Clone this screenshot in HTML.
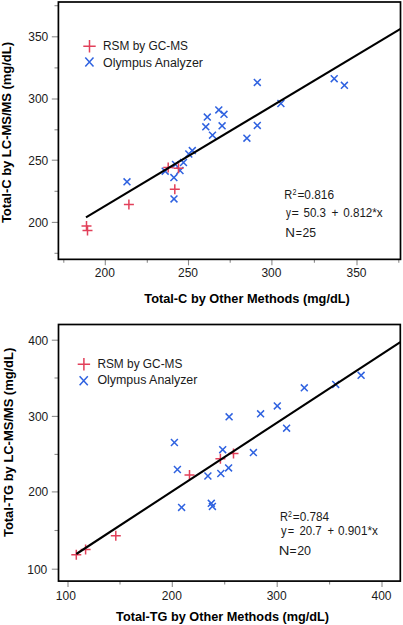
<!DOCTYPE html>
<html><head><meta charset="utf-8"><style>
html,body{margin:0;padding:0;background:#fff;}
svg{display:block;}
.t{font-family:"Liberation Sans",sans-serif;font-size:12px;fill:#1a1a1a;}
.b{font-family:"Liberation Sans",sans-serif;font-size:12.4px;font-weight:bold;fill:#000;}
</style></head><body>
<svg width="403" height="625" viewBox="0 0 403 625">
<rect width="403" height="625" fill="#fff"/>
<path d="M51.8 36.8H58.4" stroke="#8c8c8c" stroke-width="1.1"/>
<text x="48.3" y="41.10" text-anchor="end" class="t">350</text>
<path d="M51.8 99.0H58.4" stroke="#8c8c8c" stroke-width="1.1"/>
<text x="48.3" y="103.30" text-anchor="end" class="t">300</text>
<path d="M51.8 160.2H58.4" stroke="#8c8c8c" stroke-width="1.1"/>
<text x="48.3" y="164.50" text-anchor="end" class="t">250</text>
<path d="M51.8 222.4H58.4" stroke="#8c8c8c" stroke-width="1.1"/>
<text x="48.3" y="226.70" text-anchor="end" class="t">200</text>
<path d="M54.5 5.7H58.4" stroke="#8c8c8c" stroke-width="1.1"/>
<path d="M54.5 67.9H58.4" stroke="#8c8c8c" stroke-width="1.1"/>
<path d="M54.5 129.8H58.4" stroke="#8c8c8c" stroke-width="1.1"/>
<path d="M54.5 191.3H58.4" stroke="#8c8c8c" stroke-width="1.1"/>
<path d="M54.5 253.3H58.4" stroke="#8c8c8c" stroke-width="1.1"/>
<path d="M105.3 259.35V265.35" stroke="#8c8c8c" stroke-width="1.1"/>
<text x="104.80" y="277.2" text-anchor="middle" class="t">200</text>
<path d="M188.5 259.35V265.35" stroke="#8c8c8c" stroke-width="1.1"/>
<text x="188.00" y="277.2" text-anchor="middle" class="t">250</text>
<path d="M271.9 259.35V265.35" stroke="#8c8c8c" stroke-width="1.1"/>
<text x="271.40" y="277.2" text-anchor="middle" class="t">300</text>
<path d="M357.0 259.35V265.35" stroke="#8c8c8c" stroke-width="1.1"/>
<text x="356.50" y="277.2" text-anchor="middle" class="t">350</text>
<path d="M63.8 259.35V262.65000000000003" stroke="#8c8c8c" stroke-width="1.1"/>
<path d="M147.3 259.35V262.65000000000003" stroke="#8c8c8c" stroke-width="1.1"/>
<path d="M230.2 259.35V262.65000000000003" stroke="#8c8c8c" stroke-width="1.1"/>
<path d="M314.4 259.35V262.65000000000003" stroke="#8c8c8c" stroke-width="1.1"/>
<path d="M398.8 259.35V262.65000000000003" stroke="#8c8c8c" stroke-width="1.1"/>
<path d="M123.55 178.35L130.45 185.25M130.45 178.35L123.55 185.25" stroke="#2f62e0" stroke-width="1.5" fill="none"/>
<path d="M161.75 167.75L168.65 174.65M168.65 167.75L161.75 174.65" stroke="#2f62e0" stroke-width="1.5" fill="none"/>
<path d="M170.45 174.15L177.35 181.05M177.35 174.15L170.45 181.05" stroke="#2f62e0" stroke-width="1.5" fill="none"/>
<path d="M170.55 195.45L177.45 202.35M177.45 195.45L170.55 202.35" stroke="#2f62e0" stroke-width="1.5" fill="none"/>
<path d="M172.05 161.05L178.95 167.95M178.95 161.05L172.05 167.95" stroke="#2f62e0" stroke-width="1.5" fill="none"/>
<path d="M176.55 167.05L183.45 173.95M183.45 167.05L176.55 173.95" stroke="#2f62e0" stroke-width="1.5" fill="none"/>
<path d="M180.05 159.05L186.95 165.95M186.95 159.05L180.05 165.95" stroke="#2f62e0" stroke-width="1.5" fill="none"/>
<path d="M185.35 150.55L192.25 157.45M192.25 150.55L185.35 157.45" stroke="#2f62e0" stroke-width="1.5" fill="none"/>
<path d="M188.85 147.15L195.75 154.05M195.75 147.15L188.85 154.05" stroke="#2f62e0" stroke-width="1.5" fill="none"/>
<path d="M203.85 113.65L210.75 120.55M210.75 113.65L203.85 120.55" stroke="#2f62e0" stroke-width="1.5" fill="none"/>
<path d="M202.35 123.35L209.25 130.25M209.25 123.35L202.35 130.25" stroke="#2f62e0" stroke-width="1.5" fill="none"/>
<path d="M209.05 131.75L215.95 138.65M215.95 131.75L209.05 138.65" stroke="#2f62e0" stroke-width="1.5" fill="none"/>
<path d="M215.35 106.45L222.25 113.35M222.25 106.45L215.35 113.35" stroke="#2f62e0" stroke-width="1.5" fill="none"/>
<path d="M220.55 110.85L227.45 117.75M227.45 110.85L220.55 117.75" stroke="#2f62e0" stroke-width="1.5" fill="none"/>
<path d="M218.65 122.35L225.55 129.25M225.55 122.35L218.65 129.25" stroke="#2f62e0" stroke-width="1.5" fill="none"/>
<path d="M243.45 134.75L250.35 141.65M250.35 134.75L243.45 141.65" stroke="#2f62e0" stroke-width="1.5" fill="none"/>
<path d="M253.85 78.95L260.75 85.85M260.75 78.95L253.85 85.85" stroke="#2f62e0" stroke-width="1.5" fill="none"/>
<path d="M253.85 121.95L260.75 128.85M260.75 121.95L253.85 128.85" stroke="#2f62e0" stroke-width="1.5" fill="none"/>
<path d="M277.45 100.05L284.35 106.95M284.35 100.05L277.45 106.95" stroke="#2f62e0" stroke-width="1.5" fill="none"/>
<path d="M330.75 75.25L337.65 82.15M337.65 75.25L330.75 82.15" stroke="#2f62e0" stroke-width="1.5" fill="none"/>
<path d="M340.95 81.85L347.85 88.75M347.85 81.85L340.95 88.75" stroke="#2f62e0" stroke-width="1.5" fill="none"/>
<path d="M81.50 226.00H91.50M86.50 221.00V231.00" stroke="#e2405a" stroke-width="1.5" fill="none"/>
<path d="M82.50 230.50H92.50M87.50 225.50V235.50" stroke="#e2405a" stroke-width="1.5" fill="none"/>
<path d="M123.90 204.40H133.90M128.90 199.40V209.40" stroke="#e2405a" stroke-width="1.5" fill="none"/>
<path d="M163.20 167.60H173.20M168.20 162.60V172.60" stroke="#e2405a" stroke-width="1.5" fill="none"/>
<path d="M173.50 168.30H183.50M178.50 163.30V173.30" stroke="#e2405a" stroke-width="1.5" fill="none"/>
<path d="M169.80 189.20H179.80M174.80 184.20V194.20" stroke="#e2405a" stroke-width="1.5" fill="none"/>
<path d="M86 217.4L400.5 28.9" stroke="#000" stroke-width="2.1" fill="none"/>
<rect x="58.4" y="2.0" width="342.10" height="257.35" fill="none" stroke="#000" stroke-width="1.7"/>
<path d="M83.30 46.30H95.70M89.50 40.10V52.50" stroke="#e2405a" stroke-width="1.5" fill="none"/>
<path d="M85.30 57.40L93.50 66.40M93.50 57.40L85.30 66.40" stroke="#2f62e0" stroke-width="1.5" fill="none"/>
<text x="103" y="50.3" class="t" textLength="85" lengthAdjust="spacingAndGlyphs">RSM by GC-MS</text>
<text x="103" y="66.6" class="t" textLength="100" lengthAdjust="spacingAndGlyphs">Olympus Analyzer</text>
<text x="284.37" y="199.4" class="t" style="font-size:12px" textLength="7.95" lengthAdjust="spacingAndGlyphs" xml:space="preserve">R</text>
<text x="292.54" y="195.2" class="t" style="font-size:8.7px" textLength="4.00" lengthAdjust="spacingAndGlyphs" xml:space="preserve">2</text>
<text x="297.41" y="199.4" class="t" style="font-size:12px" textLength="36.63" lengthAdjust="spacingAndGlyphs" xml:space="preserve">=0.816</text>
<text x="285.90" y="216.9" class="t" style="font-size:12px" textLength="4.90" lengthAdjust="spacingAndGlyphs" xml:space="preserve">y</text>
<text x="291.48" y="216.9" class="t" style="font-size:12px" textLength="7.36" lengthAdjust="spacingAndGlyphs" xml:space="preserve">=</text>
<text x="303.51" y="216.9" class="t" style="font-size:12px" textLength="22.52" lengthAdjust="spacingAndGlyphs" xml:space="preserve">50.3</text>
<text x="331.51" y="216.9" class="t" style="font-size:12px" textLength="6.89" lengthAdjust="spacingAndGlyphs" xml:space="preserve">+</text>
<text x="343.21" y="216.9" class="t" style="font-size:12px" textLength="39.48" lengthAdjust="spacingAndGlyphs" xml:space="preserve">0.812*x</text>
<text x="285.19" y="236.5" class="t" style="font-size:12px" textLength="9.69" lengthAdjust="spacingAndGlyphs" xml:space="preserve">N</text>
<text x="295.66" y="236.5" class="t" style="font-size:12px" textLength="6.19" lengthAdjust="spacingAndGlyphs" xml:space="preserve">=</text>
<text x="302.59" y="236.5" class="t" style="font-size:12px" textLength="13.56" lengthAdjust="spacingAndGlyphs" xml:space="preserve">25</text>
<text x="144.3" y="303.2" class="b" textLength="205.5" lengthAdjust="spacingAndGlyphs">Total-C by Other Methods (mg/dL)</text>
<text transform="translate(10.9 223.1) rotate(-90)" x="0" y="0" class="b" textLength="181.1" lengthAdjust="spacingAndGlyphs">Total-C by LC-MS/MS (mg/dL)</text>
<path d="M51.8 340.2H58.5" stroke="#8c8c8c" stroke-width="1.1"/>
<text x="48.3" y="344.50" text-anchor="end" class="t">400</text>
<path d="M51.8 416.4H58.5" stroke="#8c8c8c" stroke-width="1.1"/>
<text x="48.3" y="420.70" text-anchor="end" class="t">300</text>
<path d="M51.8 491.9H58.5" stroke="#8c8c8c" stroke-width="1.1"/>
<text x="48.3" y="496.20" text-anchor="end" class="t">200</text>
<path d="M51.8 569.2H58.5" stroke="#8c8c8c" stroke-width="1.1"/>
<text x="47.3" y="573.50" text-anchor="end" class="t">100</text>
<path d="M54.5 378.0H58.5" stroke="#8c8c8c" stroke-width="1.1"/>
<path d="M54.5 454.4H58.5" stroke="#8c8c8c" stroke-width="1.1"/>
<path d="M54.5 530.5H58.5" stroke="#8c8c8c" stroke-width="1.1"/>
<path d="M68.0 581.1V587.1" stroke="#8c8c8c" stroke-width="1.1"/>
<text x="65.80" y="599.8" text-anchor="middle" class="t">100</text>
<path d="M172.3 581.1V587.1" stroke="#8c8c8c" stroke-width="1.1"/>
<text x="171.80" y="599.8" text-anchor="middle" class="t">200</text>
<path d="M277.2 581.1V587.1" stroke="#8c8c8c" stroke-width="1.1"/>
<text x="276.70" y="599.8" text-anchor="middle" class="t">300</text>
<path d="M382.0 581.1V587.1" stroke="#8c8c8c" stroke-width="1.1"/>
<text x="381.50" y="599.8" text-anchor="middle" class="t">400</text>
<path d="M120.0 581.1V584.4" stroke="#8c8c8c" stroke-width="1.1"/>
<path d="M224.7 581.1V584.4" stroke="#8c8c8c" stroke-width="1.1"/>
<path d="M329.6 581.1V584.4" stroke="#8c8c8c" stroke-width="1.1"/>
<path d="M170.95 439.05L177.85 445.95M177.85 439.05L170.95 445.95" stroke="#2f62e0" stroke-width="1.5" fill="none"/>
<path d="M173.95 466.05L180.85 472.95M180.85 466.05L173.95 472.95" stroke="#2f62e0" stroke-width="1.5" fill="none"/>
<path d="M204.45 472.55L211.35 479.45M211.35 472.55L204.45 479.45" stroke="#2f62e0" stroke-width="1.5" fill="none"/>
<path d="M178.15 503.95L185.05 510.85M185.05 503.95L178.15 510.85" stroke="#2f62e0" stroke-width="1.5" fill="none"/>
<path d="M207.85 499.85L214.75 506.75M214.75 499.85L207.85 506.75" stroke="#2f62e0" stroke-width="1.5" fill="none"/>
<path d="M208.95 502.95L215.85 509.85M215.85 502.95L208.95 509.85" stroke="#2f62e0" stroke-width="1.5" fill="none"/>
<path d="M219.25 446.25L226.15 453.15M226.15 446.25L219.25 453.15" stroke="#2f62e0" stroke-width="1.5" fill="none"/>
<path d="M225.15 464.45L232.05 471.35M232.05 464.45L225.15 471.35" stroke="#2f62e0" stroke-width="1.5" fill="none"/>
<path d="M217.35 470.05L224.25 476.95M224.25 470.05L217.35 476.95" stroke="#2f62e0" stroke-width="1.5" fill="none"/>
<path d="M225.65 413.35L232.55 420.25M232.55 413.35L225.65 420.25" stroke="#2f62e0" stroke-width="1.5" fill="none"/>
<path d="M249.95 449.15L256.85 456.05M256.85 449.15L249.95 456.05" stroke="#2f62e0" stroke-width="1.5" fill="none"/>
<path d="M257.15 410.35L264.05 417.25M264.05 410.35L257.15 417.25" stroke="#2f62e0" stroke-width="1.5" fill="none"/>
<path d="M273.85 402.45L280.75 409.35M280.75 402.45L273.85 409.35" stroke="#2f62e0" stroke-width="1.5" fill="none"/>
<path d="M283.15 424.75L290.05 431.65M290.05 424.75L283.15 431.65" stroke="#2f62e0" stroke-width="1.5" fill="none"/>
<path d="M300.85 384.35L307.75 391.25M307.75 384.35L300.85 391.25" stroke="#2f62e0" stroke-width="1.5" fill="none"/>
<path d="M332.25 380.95L339.15 387.85M339.15 380.95L332.25 387.85" stroke="#2f62e0" stroke-width="1.5" fill="none"/>
<path d="M357.65 371.85L364.55 378.75M364.55 371.85L357.65 378.75" stroke="#2f62e0" stroke-width="1.5" fill="none"/>
<path d="M71.30 554.70H81.30M76.30 549.70V559.70" stroke="#e2405a" stroke-width="1.5" fill="none"/>
<path d="M80.60 549.50H90.60M85.60 544.50V554.50" stroke="#e2405a" stroke-width="1.5" fill="none"/>
<path d="M110.80 535.80H120.80M115.80 530.80V540.80" stroke="#e2405a" stroke-width="1.5" fill="none"/>
<path d="M184.50 474.90H194.50M189.50 469.90V479.90" stroke="#e2405a" stroke-width="1.5" fill="none"/>
<path d="M215.40 458.80H225.40M220.40 453.80V463.80" stroke="#e2405a" stroke-width="1.5" fill="none"/>
<path d="M228.50 453.40H238.50M233.50 448.40V458.40" stroke="#e2405a" stroke-width="1.5" fill="none"/>
<path d="M76.3 554.0L400.3 342.2" stroke="#000" stroke-width="2.1" fill="none"/>
<rect x="58.5" y="324.5" width="341.80" height="256.60" fill="none" stroke="#000" stroke-width="1.7"/>
<path d="M77.70 364.20H90.10M83.90 358.00V370.40" stroke="#e2405a" stroke-width="1.5" fill="none"/>
<path d="M79.60 376.20L87.80 385.20M87.80 376.20L79.60 385.20" stroke="#2f62e0" stroke-width="1.5" fill="none"/>
<text x="97.4" y="367.9" class="t" textLength="85" lengthAdjust="spacingAndGlyphs">RSM by GC-MS</text>
<text x="97.4" y="384.3" class="t" textLength="100" lengthAdjust="spacingAndGlyphs">Olympus Analyzer</text>
<text x="279.97" y="520.5" class="t" style="font-size:12px" textLength="7.95" lengthAdjust="spacingAndGlyphs" xml:space="preserve">R</text>
<text x="288.05" y="516.6" class="t" style="font-size:8.7px" textLength="3.88" lengthAdjust="spacingAndGlyphs" xml:space="preserve">2</text>
<text x="292.81" y="520.5" class="t" style="font-size:12px" textLength="36.32" lengthAdjust="spacingAndGlyphs" xml:space="preserve">=0.784</text>
<text x="281.00" y="534.7" class="t" style="font-size:12px" textLength="5.60" lengthAdjust="spacingAndGlyphs" xml:space="preserve">y</text>
<text x="287.64" y="534.7" class="t" style="font-size:12px" textLength="6.42" lengthAdjust="spacingAndGlyphs" xml:space="preserve">=</text>
<text x="299.43" y="534.7" class="t" style="font-size:12px" textLength="22.30" lengthAdjust="spacingAndGlyphs" xml:space="preserve">20.7</text>
<text x="327.53" y="534.7" class="t" style="font-size:12px" textLength="6.54" lengthAdjust="spacingAndGlyphs" xml:space="preserve">+</text>
<text x="338.01" y="534.7" class="t" style="font-size:12px" textLength="39.89" lengthAdjust="spacingAndGlyphs" xml:space="preserve">0.901*x</text>
<text x="278.89" y="555.4" class="t" style="font-size:12px" textLength="10.70" lengthAdjust="spacingAndGlyphs" xml:space="preserve">N</text>
<text x="289.40" y="555.4" class="t" style="font-size:12px" textLength="7.01" lengthAdjust="spacingAndGlyphs" xml:space="preserve">=</text>
<text x="297.18" y="555.4" class="t" style="font-size:12px" textLength="13.89" lengthAdjust="spacingAndGlyphs" xml:space="preserve">20</text>
<text x="116.1" y="620.6" class="b" textLength="213.0" lengthAdjust="spacingAndGlyphs">Total-TG by Other Methods (mg/dL)</text>
<text transform="translate(13.0 537.0) rotate(-90)" x="0" y="0" class="b" textLength="189.2" lengthAdjust="spacingAndGlyphs">Total-TG by LC-MS/MS (mg/dL)</text>
</svg>
</body></html>
